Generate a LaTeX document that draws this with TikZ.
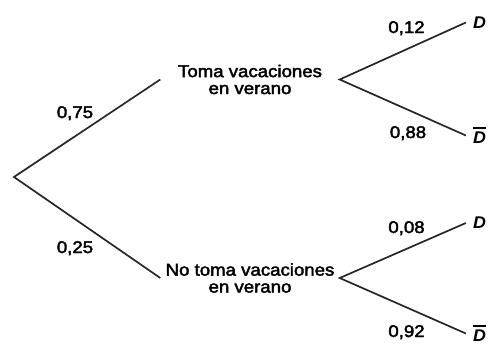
\documentclass[tikz,border=0pt]{standalone}
\usepackage{fontspec}
\setmainfont{Liberation Sans}[FakeStretch=1.1,FakeBold=2.5]
\newfontfamily\outcfont{Liberation Sans}[FakeStretch=1.05]
\newcommand\barD{\vbox{\hrule height 1.5bp\kern 3bp\hbox{\outcfont\bfseries\itshape D}}}
\begin{document}
\begin{tikzpicture}[x=1bp,y=-1bp,
  branch/.style={draw=black!85, line width=1.7bp},
  prob/.style={inner sep=0pt, anchor=base, font=\fontsize{17}{17}\selectfont},
  event/.style={inner sep=0pt, align=center, minimum width=179bp, font=\fontsize{17}{17}\selectfont},
  outc/.style={inner xsep=7bp, inner ysep=0pt, font=\fontsize{17}{17}\selectfont\outcfont\bfseries\itshape}]
\useasboundingbox (0,0) rectangle (490,345);
\coordinate (root) at (14,177);
\node[event] (up) at (250,79.5) {Toma vacaciones\\en verano};
\node[event] (lo) at (250,278) {No toma vacaciones\\en verano};
\node[outc] (d1) at (479.5,22.5) {D};
\node[outc] (d2) at (479.5,135.5) {\barD};
\node[outc] (d3) at (479.5,223) {D};
\node[outc] (d4) at (479.5,333.5) {\barD};
\draw[branch] (up.west) -- (root) -- (lo.west);
\draw[branch] (d1.west) -- (up.east) -- (d2.west);
\draw[branch] (d3.west) -- (lo.east) -- (d4.west);
\node[prob] (p1) at (75,118) {0,75};
\node[prob] (p2) at (75,253) {0,25};
\node[prob] (p3) at (406.5,33) {0,12};
\node[prob] (p4) at (408,138) {0,88};
\node[prob] (p5) at (406.5,233) {0,08};
\node[prob] (p6) at (406.5,337) {0,92};
\end{tikzpicture}
\end{document}
